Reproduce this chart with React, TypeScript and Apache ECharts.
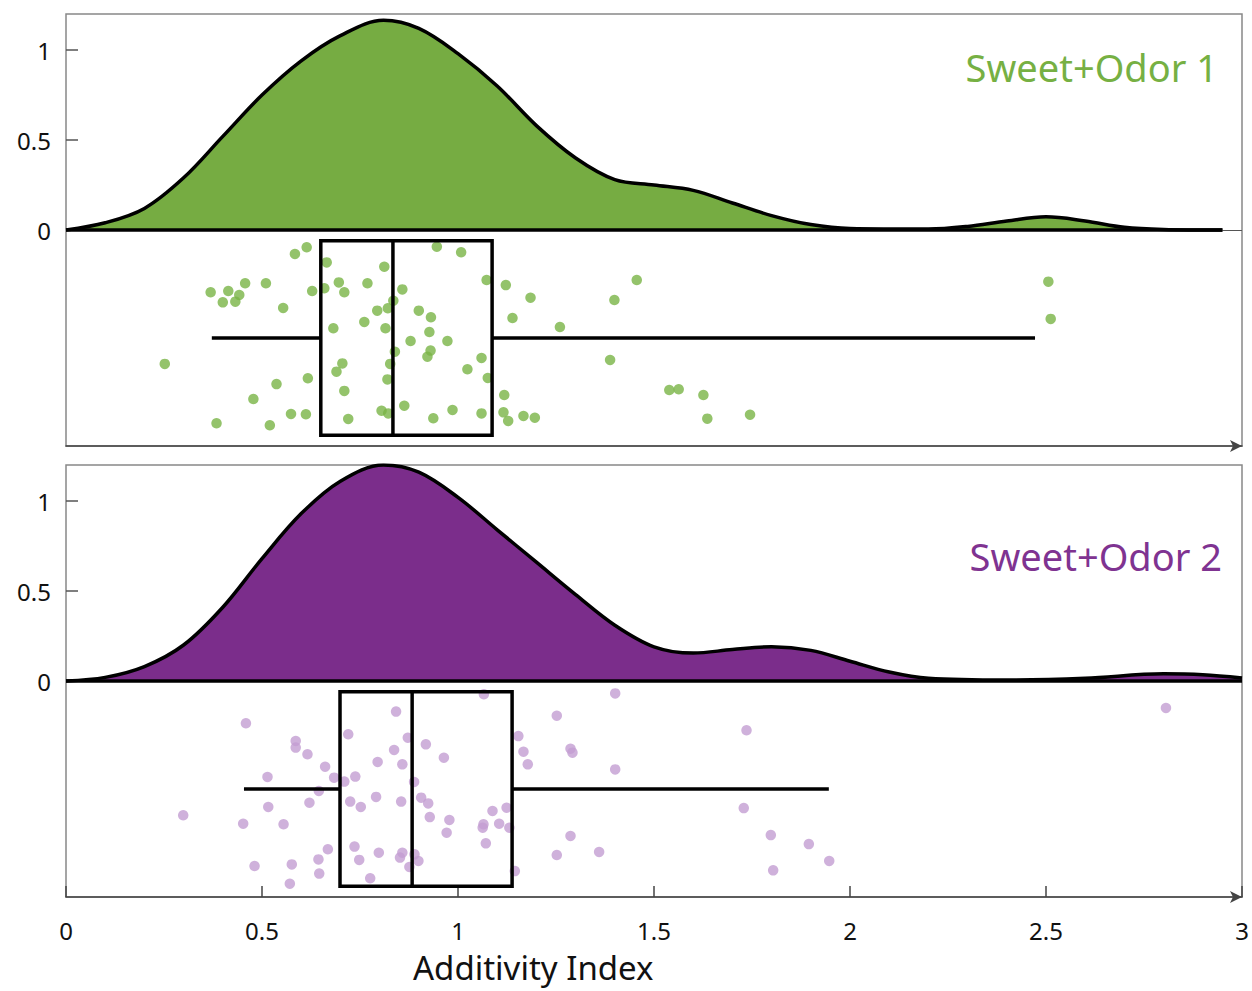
import React, { useEffect, useRef } from "react";
import * as echarts from "echarts";

// ---------- Data ----------
const xTickValues = [0, 0.5, 1, 1.5, 2, 2.5, 3];
const yTickValues = [0, 0.5, 1];

// Density curve, Sweet+Odor 1
const densityX1 = [0, 0.1, 0.2, 0.3, 0.4, 0.5, 0.6, 0.7, 0.81, 0.9, 1.0, 1.1, 1.2, 1.3, 1.4, 1.5, 1.6, 1.7, 1.8, 1.9, 2.0, 2.2, 2.3, 2.4, 2.5, 2.6, 2.7, 2.8, 2.95];
const densityY1 = [0, 0.04, 0.12, 0.29, 0.52, 0.75, 0.94, 1.08, 1.165, 1.12, 0.98, 0.8, 0.58, 0.4, 0.28, 0.25, 0.22, 0.15, 0.08, 0.03, 0.008, 0.005, 0.02, 0.05, 0.073, 0.05, 0.015, 0.003, 0];

// Density curve, Sweet+Odor 2
const densityX2 = [0, 0.1, 0.2, 0.3, 0.4, 0.5, 0.6, 0.7, 0.81, 0.9, 1.0, 1.1, 1.2, 1.3, 1.4, 1.5, 1.6, 1.7, 1.8, 1.9, 2.0, 2.1, 2.2, 2.4, 2.6, 2.8, 2.9, 3.0];
const densityY2 = [0, 0.02, 0.08, 0.2, 0.41, 0.68, 0.93, 1.11, 1.2, 1.16, 1.02, 0.84, 0.66, 0.48, 0.31, 0.19, 0.155, 0.175, 0.19, 0.17, 0.11, 0.05, 0.015, 0.005, 0.015, 0.04, 0.035, 0.017];

// Box summaries [lower whisker, Q1, median, Q3, upper whisker]
const box1 = [0.372, 0.65, 0.834, 1.087, 2.472];
const box2 = [0.454, 0.699, 0.883, 1.138, 1.946];

// Jittered raw points, Sweet+Odor 1 (x = index, y = jitter offset)
const jitterX1 = [0.614, 0.584, 0.946, 0.665, 0.812, 0.369, 0.414, 0.457, 0.51, 0.442, 0.4, 0.432, 0.554, 0.628, 0.659, 0.696, 0.71, 0.769, 0.858, 0.835, 0.821, 0.794, 0.9, 0.931, 0.761, 0.815, 0.682, 0.927, 0.879, 0.973, 0.839, 0.93, 0.922, 0.252, 0.705, 0.69, 0.827, 0.617, 0.82, 0.537, 0.478, 0.71, 0.863, 0.805, 0.822, 0.574, 0.612, 0.384, 0.52, 0.72, 0.937,
  1.008, 1.073, 1.122, 1.185, 1.139, 1.26, 1.399, 1.456, 1.06, 1.024, 1.076, 1.388, 1.118, 0.986, 1.06, 1.116, 1.128, 1.167, 1.196, 1.539, 1.563, 1.626, 1.636, 1.745, 2.506, 2.512];
const jitterY1 = [-0.096, -0.133, -0.093, -0.18, -0.204, -0.346, -0.339, -0.296, -0.296, -0.361, -0.402, -0.398, -0.433, -0.339, -0.324, -0.291, -0.346, -0.296, -0.33, -0.393, -0.435, -0.448, -0.448, -0.485, -0.511, -0.546, -0.546, -0.567, -0.617, -0.617, -0.676, -0.67, -0.704, -0.744, -0.741, -0.787, -0.744, -0.824, -0.83, -0.856, -0.939, -0.894, -0.976, -1.004, -1.019, -1.022, -1.024, -1.074, -1.085, -1.05, -1.046,
  -0.124, -0.278, -0.306, -0.376, -0.489, -0.539, -0.389, -0.278, -0.711, -0.774, -0.822, -0.722, -0.917, -1.0, -1.019, -1.013, -1.061, -1.033, -1.043, -0.889, -0.885, -0.917, -1.048, -1.026, -0.287, -0.494];

// Jittered raw points, Sweet+Odor 2
const jitterX2 = [0.459, 0.586, 0.586, 0.616, 0.72, 0.842, 0.872, 0.837, 0.858, 0.795, 0.918, 0.964, 0.661, 0.514, 0.684, 0.71, 0.738, 0.888, 0.645, 0.621, 0.516, 0.725, 0.752, 0.791, 0.855, 0.906, 0.924, 0.928, 0.978, 0.971, 0.299, 0.452, 0.555, 0.668, 0.644, 0.736, 0.748, 0.798, 0.858, 0.852, 0.889, 0.899, 0.876, 0.481, 0.576, 0.646, 0.571, 0.776,
  1.066, 1.401, 1.252, 1.154, 1.167, 1.178, 1.287, 1.292, 1.401, 1.736, 1.088, 1.124, 1.065, 1.063, 1.105, 1.131, 1.071, 1.287, 1.252, 1.36, 1.145, 1.729, 1.798, 1.895, 1.947, 1.804, 2.806];
const jitterY2 = [-0.235, -0.333, -0.37, -0.407, -0.296, -0.17, -0.315, -0.383, -0.463, -0.45, -0.352, -0.426, -0.476, -0.533, -0.537, -0.559, -0.531, -0.561, -0.611, -0.676, -0.7, -0.67, -0.7, -0.644, -0.67, -0.648, -0.68, -0.756, -0.772, -0.843, -0.746, -0.793, -0.796, -0.935, -0.991, -0.92, -0.994, -0.954, -0.954, -0.981, -0.963, -1.0, -1.033, -1.028, -1.019, -1.07, -1.126, -1.096,
  -0.074, -0.069, -0.193, -0.306, -0.393, -0.463, -0.376, -0.398, -0.491, -0.274, -0.722, -0.704, -0.796, -0.815, -0.793, -0.815, -0.902, -0.861, -0.967, -0.95, -1.056, -0.706, -0.856, -0.906, -1.0, -1.052, -0.15];

const groupNames = ["Sweet+Odor 1", "Sweet+Odor 2"];
const axisTitle = "Additivity Index";

// ---------- Styles ----------
const FONT = "'Noto Sans', 'Open Sans', sans-serif";
const GREEN_FILL = "#76AC42";
const GREEN_DOT = "#79B446";
const GREEN_TEXT = "#76B043";
const PURPLE_FILL = "#7B2D8B";
const PURPLE_DOT = "#C39DD2";
const PURPLE_TEXT = "#7F3391";
const BOX_TOP = -0.06;
const BOX_BOTTOM = -1.14;
const BOX_MID = -0.6;

const zip = (a: number[], b: number[]) => a.map((v, i) => [v, b[i]]);

function boxRender(params: any, api: any) {
  const lo = api.value(0);
  const q1 = api.value(1);
  const med = api.value(2);
  const q3 = api.value(3);
  const hi = api.value(4);
  const tl = api.coord([q1, BOX_TOP]);
  const br = api.coord([q3, BOX_BOTTOM]);
  const mTop = api.coord([med, BOX_TOP]);
  const mBot = api.coord([med, BOX_BOTTOM]);
  const wLo = api.coord([lo, BOX_MID]);
  const wQ1 = api.coord([q1, BOX_MID]);
  const wQ3 = api.coord([q3, BOX_MID]);
  const wHi = api.coord([hi, BOX_MID]);
  const st = { stroke: "#000", lineWidth: 3.5, fill: "none" };
  return {
    type: "group",
    children: [
      { type: "line", shape: { x1: wLo[0], y1: wLo[1], x2: wQ1[0], y2: wQ1[1] }, style: st },
      { type: "line", shape: { x1: wQ3[0], y1: wQ3[1], x2: wHi[0], y2: wHi[1] }, style: st },
      { type: "rect", shape: { x: tl[0], y: tl[1], width: br[0] - tl[0], height: br[1] - tl[1] }, style: st },
      { type: "line", shape: { x1: mTop[0], y1: mTop[1], x2: mBot[0], y2: mBot[1] }, style: st },
    ],
  };
}

export default function App() {
  const ref = useRef<HTMLDivElement>(null);

  useEffect(() => {
    if (!ref.current) return;
    const chart = echarts.init(ref.current, null, { renderer: "svg" });

    const makeX = (idx: number, showLabels: boolean) => ({
      type: "value",
      gridIndex: idx,
      min: 0,
      max: 3,
      interval: 0.5,
      axisLine: {
        show: true,
        onZero: false,
        symbol: ["none", "arrow"],
        symbolSize: [9, 12],
        lineStyle: { color: "#444", width: 1.5 },
      },
      axisTick: { show: showLabels, inside: true, length: 11, lineStyle: { color: "#444", width: 1.5 } },
      axisLabel: {
        show: showLabels,
        margin: 21,
        fontSize: 24,
        color: "#111",
        fontFamily: FONT,
        customValues: xTickValues,
      },
      splitLine: { show: false },
    });

    const makeY = (idx: number) => ({
      type: "value",
      gridIndex: idx,
      min: -1.2,
      max: 1.2,
      axisLine: { show: false },
      axisTick: { show: true, inside: true, length: 12, lineStyle: { color: "#555", width: 1.5 }, customValues: yTickValues },
      axisLabel: { show: true, margin: 15, fontSize: 24, color: "#111", fontFamily: FONT, customValues: yTickValues },
      splitLine: { show: false },
    });

    const densitySeries = (idx: number, xs: number[], ys: number[], fill: string, thinTail: boolean) => {
      const end = xs[xs.length - 1];
      const mlData: any[] = [
        [{ coord: [0, 0], lineStyle: { color: "#000", width: 3.5, type: "solid" } }, { coord: [end, 0] }],
      ];
      if (thinTail) {
        mlData.unshift([{ coord: [0, 0], lineStyle: { color: "#555", width: 1.2, type: "solid" } }, { coord: [3, 0] }]);
      }
      return {
        type: "line",
        xAxisIndex: idx,
        yAxisIndex: idx,
        data: zip(xs, ys),
        smooth: 0.35,
        symbol: "none",
        lineStyle: { color: "#000", width: 3.5 },
        areaStyle: { color: fill, opacity: 1, origin: 0 },
        z: 2,
        silent: true,
        markLine: {
          symbol: "none",
          silent: true,
          label: { show: false },
          lineStyle: { type: "solid" },
          data: mlData,
        },
      };
    };

    const option: any = {
      animation: false,
      grid: [
        { left: 66, top: 14, width: 1176, height: 432, show: true, borderColor: "#888", borderWidth: 1.5, backgroundColor: "transparent" },
        { left: 66, top: 465, width: 1176, height: 432, show: true, borderColor: "#888", borderWidth: 1.5, backgroundColor: "transparent" },
      ],
      xAxis: [makeX(0, false), makeX(1, true)],
      yAxis: [makeY(0), makeY(1)],
      series: [
        densitySeries(0, densityX1, densityY1, GREEN_FILL, true),
        densitySeries(1, densityX2, densityY2, PURPLE_FILL, false),
        {
          type: "scatter",
          xAxisIndex: 0,
          yAxisIndex: 0,
          data: zip(jitterX1, jitterY1),
          symbolSize: 10.5,
          itemStyle: { color: GREEN_DOT },
          z: 3,
          silent: true,
        },
        {
          type: "scatter",
          xAxisIndex: 1,
          yAxisIndex: 1,
          data: zip(jitterX2, jitterY2),
          symbolSize: 10.5,
          itemStyle: { color: PURPLE_DOT },
          z: 3,
          silent: true,
        },
        {
          type: "custom",
          xAxisIndex: 0,
          yAxisIndex: 0,
          data: [box1],
          encode: { x: [0, 1, 2, 3, 4] },
          renderItem: boxRender,
          z: 4,
          silent: true,
        },
        {
          type: "custom",
          xAxisIndex: 1,
          yAxisIndex: 1,
          data: [box2],
          encode: { x: [0, 1, 2, 3, 4] },
          renderItem: boxRender,
          z: 4,
          silent: true,
        },
      ],
      graphic: [
        {
          type: "text",
          right: 34,
          top: 48,
          style: { text: groupNames[0], fill: GREEN_TEXT, fontSize: 38, fontFamily: FONT },
        },
        {
          type: "text",
          right: 30,
          top: 537,
          style: { text: groupNames[1], fill: PURPLE_TEXT, fontSize: 38, fontFamily: FONT },
        },
        {
          type: "text",
          left: 413,
          top: 951,
          style: { text: axisTitle, fill: "#111", fontSize: 33, fontFamily: FONT },
        },
      ],
    };

    chart.setOption(option);
    return () => chart.dispose();
  }, []);

  return (
    <div
      ref={ref}
      style={{ position: "fixed", left: 0, top: 0, width: 1252, height: 991, background: "#fff" }}
    />
  );
}
